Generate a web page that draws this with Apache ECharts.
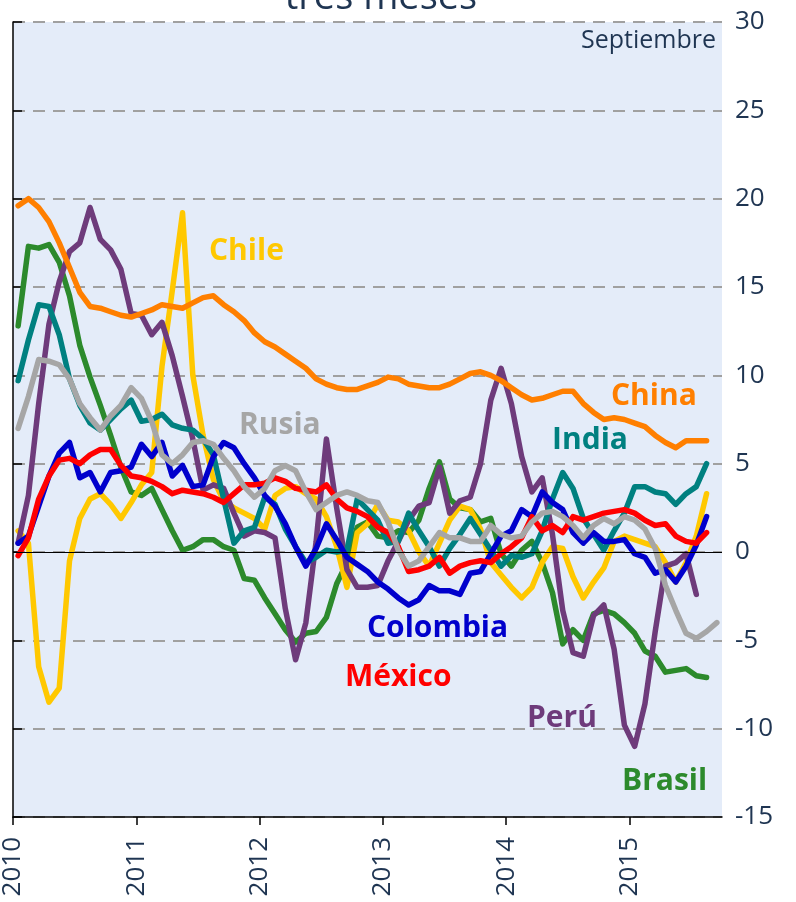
<!DOCTYPE html>
<html>
<head>
<meta charset="utf-8">
<script src="https://cdn.jsdelivr.net/npm/echarts@6/dist/echarts.min.js"></script>
<style>
  html, body { margin: 0; padding: 0; background: #fff; }
  #chart { width: 796px; height: 902px; }
</style>
</head>
<body>
<div id="chart"></div>
<script>
// meses desde enero 2010 (69 meses en el eje), etiquetas por año
var years = ['2010', '2011', '2012', '2013', '2014', '2015'];
var monthCount = 69;

var china = [19.6,20.0,19.5,18.7,17.5,16.1,14.7,13.9,13.8,13.6,13.4,13.3,13.5,13.7,14.0,13.9,13.8,14.1,14.4,14.5,14.0,13.6,13.1,12.4,11.9,11.6,11.2,10.8,10.4,9.8,9.5,9.3,9.2,9.2,9.4,9.6,9.9,9.8,9.5,9.4,9.3,9.3,9.5,9.8,10.1,10.2,10.0,9.7,9.3,8.9,8.6,8.7,8.9,9.1,9.1,8.4,7.9,7.5,7.6,7.5,7.3,7.1,6.6,6.2,5.9,6.3,6.3,6.3];
var chile = [1.2,0.5,-6.5,-8.5,-7.7,-0.5,1.9,3.0,3.3,2.7,1.9,2.8,3.8,4.5,10.5,14.8,19.2,10.0,6.6,4.1,2.9,2.5,2.2,1.9,1.3,3.2,3.6,3.7,3.3,3.0,2.0,0.3,-2.0,1.1,1.6,2.7,1.8,1.7,1.2,0.0,-0.8,0.5,1.8,2.6,2.4,1.3,-0.6,-1.3,-2.0,-2.6,-2.0,-0.6,0.3,0.2,-1.4,-2.6,-1.7,-0.9,0.6,0.9,0.7,0.5,0.3,-0.6,-1.7,-0.6,0.9,3.3];
var brasil = [12.8,17.3,17.2,17.4,16.4,14.5,11.7,9.9,8.3,6.6,4.8,3.4,3.2,3.6,2.4,1.2,0.1,0.3,0.7,0.7,0.3,0.1,-1.5,-1.6,-2.6,-3.5,-4.4,-5.1,-4.6,-4.5,-3.7,-1.8,-0.6,1.4,1.7,0.9,0.8,1.2,1.1,1.8,3.6,5.1,3.0,2.5,2.4,1.7,1.9,-0.1,-0.8,0.1,0.6,-0.6,-2.3,-5.2,-4.4,-5.0,-3.5,-3.3,-3.5,-4.0,-4.6,-5.6,-5.9,-6.8,-6.7,-6.6,-7.0,-7.1];
var india = [9.7,12.0,14.0,13.9,12.3,9.8,8.3,7.3,6.9,7.5,8.1,8.6,7.4,7.5,7.8,7.2,7.0,6.9,6.4,5.5,3.0,0.5,1.2,1.4,3.1,2.7,1.3,0.3,-0.6,-0.3,0.1,0.0,0.1,3.0,2.4,1.8,0.5,0.6,2.2,1.2,0.3,-0.8,0.2,1.0,1.9,1.0,0.1,-0.8,-0.2,-0.3,-0.1,1.2,3.0,4.5,3.6,1.9,1.0,0.1,1.2,2.2,3.7,3.7,3.4,3.3,2.7,3.3,3.7,5.0];
var rusia = [7.0,8.8,10.9,10.8,10.6,9.8,8.4,7.6,6.9,7.7,8.3,9.3,8.7,7.4,5.5,5.0,5.5,6.2,6.3,6.1,5.3,4.6,3.7,3.1,3.6,4.6,4.9,4.6,3.4,2.4,2.8,3.2,3.4,3.2,2.9,2.8,1.7,0.1,-0.8,-0.5,0.3,1.1,0.8,0.8,0.6,0.6,1.5,1.0,0.8,0.9,1.7,2.2,2.3,2.0,1.5,0.8,1.5,1.9,1.6,2.0,1.8,1.3,0.2,-1.9,-3.3,-4.6,-4.9,-4.5,-4.0];
var colombia = [0.5,0.9,2.6,4.3,5.6,6.2,4.2,4.5,3.4,4.5,4.6,4.8,6.1,5.4,6.2,4.3,4.9,3.7,3.8,5.4,6.2,5.9,5.0,4.2,3.2,2.6,1.6,0.3,-0.8,0.2,1.6,0.7,-0.3,-0.7,-1.1,-1.7,-2.1,-2.6,-3.0,-2.7,-1.9,-2.2,-2.2,-2.4,-1.2,-1.1,-0.1,0.9,1.2,2.4,2.0,3.4,2.8,2.4,1.1,0.5,1.1,0.6,0.6,0.7,-0.1,-0.3,-1.2,-1.0,-1.7,-0.8,0.4,2.0];
var mexico = [-0.2,0.8,3.0,4.3,5.2,5.3,5.0,5.5,5.8,5.8,4.9,4.3,4.2,4.0,3.7,3.3,3.5,3.4,3.3,3.1,2.8,3.3,3.8,3.8,3.9,4.2,4.0,3.6,3.5,3.4,3.8,3.0,2.5,2.3,2.0,1.4,1.1,0.3,-1.1,-1.0,-0.8,-0.3,-1.2,-0.8,-0.6,-0.5,-0.6,-0.1,0.3,0.8,2.0,1.2,1.5,1.1,2.0,1.8,2.0,2.2,2.3,2.4,2.2,1.8,1.5,1.6,0.9,0.6,0.5,1.1];
var peru = [0.5,3.2,8.4,12.9,15.3,17.0,17.5,19.5,17.7,17.1,16.0,13.5,13.4,12.3,13.0,11.1,8.8,6.4,3.5,3.8,3.6,2.2,0.9,1.2,1.1,0.8,-3.2,-6.1,-4.0,0.6,6.4,2.5,-1.0,-2.0,-2.0,-1.9,-0.5,0.6,1.8,2.6,2.8,4.8,2.2,2.9,3.1,5.0,8.6,10.4,8.4,5.4,3.4,4.2,1.0,-3.3,-5.7,-5.9,-3.6,-3.0,-5.5,-9.8,-11.0,-8.6,-4.5,-0.8,-0.6,-0.1,-2.4,null];

var textColor = '#1F3552';
var labelFont = '"Open Sans", "Noto Sans", sans-serif';

// cada punto va a mitad del mes
function pts(arr) {
  return arr.map(function (v, i) { return [i + 0.5, v]; });
}

function linea(name, data, color) {
  return {
    name: name,
    type: 'line',
    data: pts(data),
    symbol: 'none',
    smooth: false,
    connectNulls: false,
    lineStyle: { color: color, width: 5.5, cap: 'round', join: 'round' },
    itemStyle: { color: color }
  };
}

var series = [
  linea('Brasil', brasil, '#2C8A2C'),
  linea('Chile', chile, '#FFC800'),
  linea('Perú', peru, '#6E3B7B'),
  linea('India', india, '#008080'),
  linea('Colombia', colombia, '#0000CC'),
  linea('China', china, '#FF7F00'),
  linea('México', mexico, '#FF0000'),
  linea('Rusia', rusia, '#A6A6A6')
];
// linea del cero
series[0].markLine = {
  silent: true,
  symbol: 'none',
  label: { show: false },
  lineStyle: { color: '#000', width: 1.2, type: 'solid' },
  data: [{ yAxis: 0 }]
};

function etiqueta(text, x, y, color) {
  return {
    type: 'text',
    left: x,
    top: y,
    style: { text: text, fill: color, font: 'bold 30px ' + labelFont }
  };
}

var chart = echarts.init(document.getElementById('chart'));
var option = {
  animation: false,
  backgroundColor: '#fff',
  grid: {
    left: 13, right: 74, top: 22, bottom: 85,
    show: true, backgroundColor: '#E4ECF9', borderWidth: 0
  },
  xAxis: {
    type: 'value',
    min: 0,
    max: monthCount,
    interval: 12,
    axisLine: { show: true, onZero: false, lineStyle: { color: '#000', width: 1.5 } },
    axisTick: { show: true, length: 8, customValues: [0, 12, 24, 36, 48, 60], lineStyle: { color: '#000', width: 1.5 } },
    axisLabel: {
      rotate: 90,
      margin: 20,
      fontSize: 26,
      fontFamily: labelFont,
      color: textColor,
      customValues: [0, 12, 24, 36, 48, 60],
      formatter: function (v) { return v % 12 === 0 ? years[v / 12] : ''; }
    },
    splitLine: { show: false }
  },
  yAxis: {
    type: 'value',
    position: 'right',
    min: -15,
    max: 30,
    interval: 5,
    axisLine: { show: true, lineStyle: { color: '#000', width: 1.5 } },
    axisTick: { show: true, length: 9, lineStyle: { color: '#000', width: 1.5 } },
    axisLabel: { margin: 13, fontSize: 26, fontFamily: labelFont, color: textColor },
    splitLine: { show: true, lineStyle: { color: '#A0A0A0', width: 2, type: [12, 8] } }
  },
  graphic: [
    {
      type: 'text', x: 381, y: -2,
      style: { text: 'tres meses', fill: textColor, font: '38px ' + labelFont, align: 'center', verticalAlign: 'middle' }
    },
    {
      type: 'text', x: 716, y: 41,
      style: { text: 'Septiembre', fill: textColor, font: '25px ' + labelFont, align: 'right', verticalAlign: 'middle' }
    },
    etiqueta('Chile', 209, 236, '#FFC800'),
    etiqueta('Rusia', 239, 410, '#A6A6A6'),
    etiqueta('China', 611, 381, '#FF7F00'),
    etiqueta('India', 552, 425, '#008080'),
    etiqueta('Colombia', 367, 613, '#0000CC'),
    etiqueta('México', 345, 662, '#FF0000'),
    etiqueta('Perú', 527, 703, '#6E3B7B'),
    etiqueta('Brasil', 622, 766, '#2C8A2C')
  ],
  series: series
};
chart.setOption(option);
</script>
</body>
</html>
